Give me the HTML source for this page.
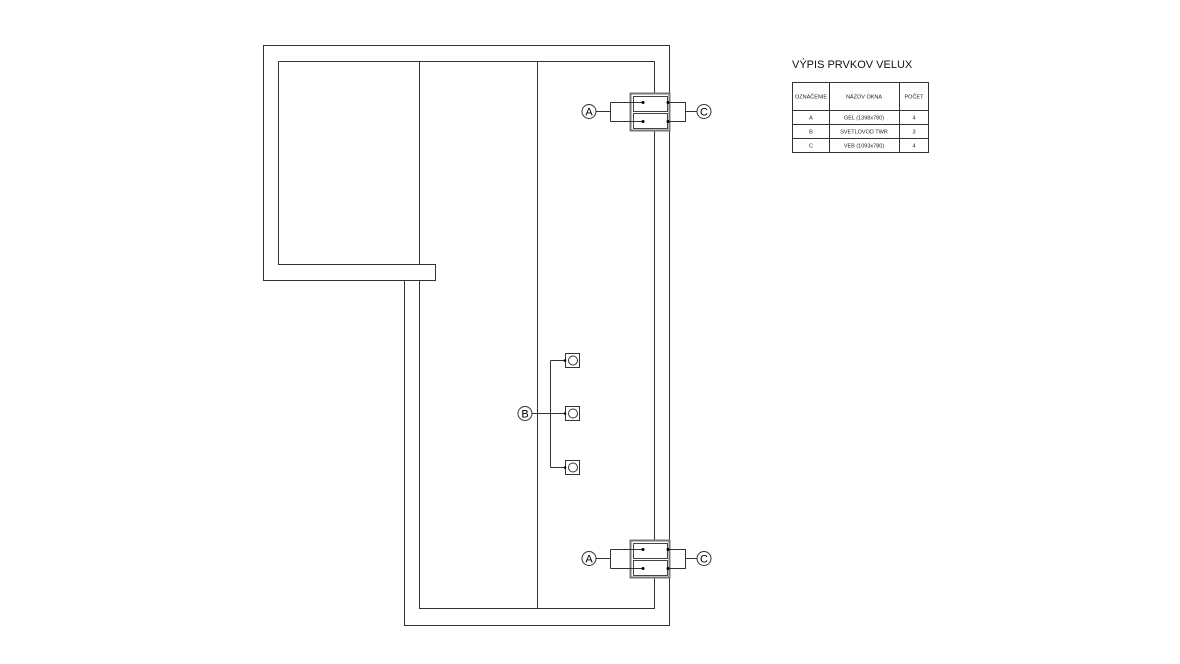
<!DOCTYPE html>
<html><head><meta charset="utf-8"><style>
body{margin:0;background:#fff;}
svg{display:block;font-family:"Liberation Sans",sans-serif;}
</style></head><body>
<svg width="1180" height="664" viewBox="0 0 1180 664" xmlns="http://www.w3.org/2000/svg">
<g fill="none" stroke="#333" stroke-width="1">
<path d="M263.5 45.5 H669.5 V625.5 H404.5 V280.5 H263.5 Z"/>
<path d="M278.5 61.5 H654.5 V608.5 H419.5 V280.5"/>
<path d="M278.5 61.5 V264.5 H435.5 V280.5 H404.5"/>
<line x1="419.5" y1="61" x2="419.5" y2="264"/>
<line x1="537.5" y1="61" x2="537.5" y2="608"/>
</g>
<g stroke="#333" fill="none" stroke-width="1">
<rect x="630.5" y="93.5" width="39" height="37" fill="#fff" stroke="#777" stroke-width="2"/>
<rect x="633.5" y="96.5" width="34" height="15" stroke="#444"/>
<rect x="633.5" y="113.5" width="34" height="15" stroke="#444"/>
<path d="M596 111.5 H610.5 M610.5 102.5 V121.5 M610.5 102.5 H643 M610.5 121.5 H643"/>
<path d="M668 102.5 H685.5 V121.5 H668 M685.5 111.5 H697"/>
<circle cx="589" cy="111.5" r="7"/>
<circle cx="704" cy="111.5" r="7"/>
</g>
<g fill="#000"><circle cx="643" cy="102.5" r="1.5"/><circle cx="643" cy="121.5" r="1.5"/><circle cx="668" cy="102.5" r="1.5"/><circle cx="668" cy="121.5" r="1.5"/></g>
<g font-size="11" text-anchor="middle" fill="#000">
<text x="589" y="115.5">A</text><text x="704" y="115.5">C</text>
</g>
<g transform="translate(0,447)">
<g stroke="#333" fill="none" stroke-width="1">
<rect x="630.5" y="93.5" width="39" height="37" fill="#fff" stroke="#777" stroke-width="2"/>
<rect x="633.5" y="96.5" width="34" height="15" stroke="#444"/>
<rect x="633.5" y="113.5" width="34" height="15" stroke="#444"/>
<path d="M596 111.5 H610.5 M610.5 102.5 V121.5 M610.5 102.5 H643 M610.5 121.5 H643"/>
<path d="M668 102.5 H685.5 V121.5 H668 M685.5 111.5 H697"/>
<circle cx="589" cy="111.5" r="7"/>
<circle cx="704" cy="111.5" r="7"/>
</g>
<g fill="#000"><circle cx="643" cy="102.5" r="1.5"/><circle cx="643" cy="121.5" r="1.5"/><circle cx="668" cy="102.5" r="1.5"/><circle cx="668" cy="121.5" r="1.5"/></g>
<g font-size="11" text-anchor="middle" fill="#000">
<text x="589" y="115.5">A</text><text x="704" y="115.5">C</text>
</g>
</g>
<g stroke="#333" fill="none" stroke-width="1">
<circle cx="525" cy="413.5" r="7"/>
<path d="M532 413.5 H565 M550.5 360.5 V467.5 M550.5 360.5 H565 M550.5 467.5 H565"/>
<rect x="565.5" y="353.5" width="14" height="14"/>
<rect x="565.5" y="406.5" width="14" height="14"/>
<rect x="565.5" y="460.5" width="14" height="14"/>
<circle cx="573" cy="360.5" r="4.5"/>
<circle cx="573" cy="413.5" r="4.5"/>
<circle cx="573" cy="467.5" r="4.5"/>
</g>
<g fill="#000"><circle cx="565" cy="360.5" r="1.3"/><circle cx="565" cy="413.5" r="1.3"/><circle cx="565" cy="467.5" r="1.3"/></g>
<text x="525" y="417.5" font-size="11" text-anchor="middle">B</text>
<text x="792" y="68" font-size="11" fill="#111">VÝPIS PRVKOV VELUX</text>
<g stroke="#333" fill="none" stroke-width="1">
<rect x="792.5" y="82.5" width="136" height="70"/>
<path d="M829.5 82.5 V152.5 M899.5 82.5 V152.5 M792.5 110.5 H928.5 M792.5 124.5 H928.5 M792.5 138.5 H928.5"/>
</g>
<g font-size="5.5" text-anchor="middle" fill="#222">
<text x="811" y="98.5">OZNAČENIE</text><text x="864" y="98.5">NÁZOV OKNA</text><text x="914" y="98.5">POČET</text>
<text x="811" y="119.5">A</text><text x="864" y="119.5">GEL (1398x780)</text><text x="914" y="119.5">4</text>
<text x="811" y="133.5">B</text><text x="864" y="133.5">SVETLOVOD TWR</text><text x="914" y="133.5">3</text>
<text x="811" y="147.5">C</text><text x="864" y="147.5">VEB (1093x780)</text><text x="914" y="147.5">4</text>
</g>
</svg>
</body></html>
